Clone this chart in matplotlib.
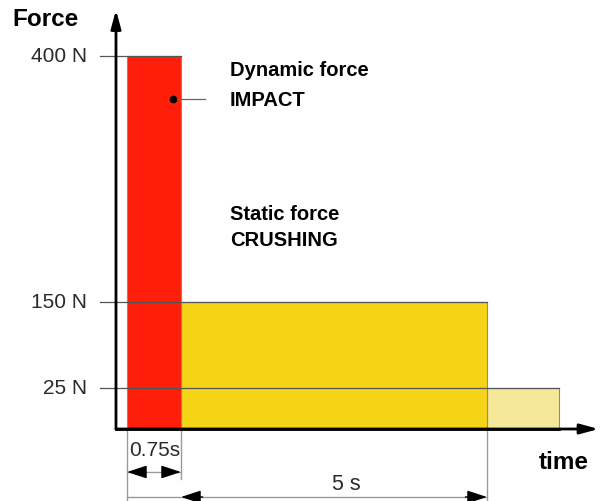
"""Schematic force/time diagram: dynamic impact force vs static crushing force."""
import numpy as np
import matplotlib
matplotlib.use("Agg")
import matplotlib.pyplot as plt
import matplotlib.transforms as mtransforms

# --- data ------------------------------------------------------------------ #
phase_start = [0.0, 0.75, 5.0]          # s
phase_width = [0.75, 4.25, 1.0]         # s
phase_force = [400, 150, 25]            # N
phase_color = ["#FF1E0A", "#F5D316", "#F6E89A"]
level_values = [400, 150, 25]
level_labels = ["400 N", "150 N", "25 N"]
level_end = [0.75, 5.0, 6.0]            # where each level line stops (s)
dim_short = (0.0, 0.75)
dim_long = (0.0, 5.0)

# the drawing is schematic: force axis is not to scale -> piecewise scale
Y_N = [-1000, 0, 25, 150, 400, 2000]
Y_PX = [-1000, 0, 41, 127, 373, 1973]


def fwd(y):
    return np.interp(y, Y_N, Y_PX)


def inv(y):
    return np.interp(y, Y_PX, Y_N)


PX_PER_S = 72.0
AXIS_T = -0.153   # time position of the force axis (slightly left of t=0)
FONT = "Liberation Sans"
plt.rcParams["font.family"] = [FONT, "DejaVu Sans"]

fig = plt.figure(figsize=(6, 5.02), dpi=100)
ax = fig.add_axes([0, 0, 1, 1])
ax.set_yscale("function", functions=(fwd, inv))
ax.set_xlim(-127 / PX_PER_S, 473 / PX_PER_S)
ax.set_ylim(-72, 457)
ax.axis("off")

blend = mtransforms.blended_transform_factory(ax.transData, ax.transAxes)
blend_y = mtransforms.blended_transform_factory(ax.transAxes, ax.transData)
base_frac = 72 / 502

# --- bars (light first so red sits on top) ------------------------------- #
for i in [2, 1, 0]:
    ax.bar(phase_start[i], phase_force[i], width=phase_width[i], align="edge",
           color=phase_color[i], edgecolor="#8c8c80", linewidth=0.8, zorder=2)

# --- level lines + labels -------------------------------------------------- #
for val, lab, end in zip(level_values, level_labels, level_end):
    ax.plot([-0.375, end], [val, val], color="#555555", lw=0.9, zorder=3)
    ax.text(0.145, val, lab, transform=blend_y, ha="right", va="center",
            fontsize=15, color="#2a2a2a")

# --- axes with arrows ------------------------------------------------------ #
arrow_kw = dict(arrowstyle="-|>,head_length=0.55,head_width=0.15",
                color="black", lw=2, mutation_scale=20, shrinkA=0, shrinkB=0)
ax.annotate("", xy=(6.55, 0), xytext=(AXIS_T, 0), arrowprops=arrow_kw, zorder=4)
ax.annotate("", xy=(AXIS_T, 446), xytext=(AXIS_T, 0), arrowprops=arrow_kw, zorder=4)
ax.plot([AXIS_T, 6.0], [0, 0], color="black", lw=2, zorder=4)

# --- dimension lines ------------------------------------------------------- #
dim_grey = "#9a9a9a"
ax.plot([0, 0], [base_frac, 0], transform=blend, color=dim_grey, lw=1)
ax.plot([0.75, 0.75], [base_frac, 22 / 502], transform=blend, color=dim_grey, lw=1)
ax.plot([5.0, 5.0], [base_frac, 0], transform=blend, color=dim_grey, lw=1)

head_kw = dict(arrowstyle="-|>,head_length=0.55,head_width=0.18",
               color="black", lw=1, mutation_scale=22, shrinkA=0, shrinkB=0)


def head(tip, frm, yf):
    ax.annotate("", xy=(tip, yf), xytext=(frm, yf), xycoords=blend,
                textcoords=blend, arrowprops=head_kw)


y_short = 29 / 502
ax.plot(list(dim_short), [y_short, y_short], transform=blend, color=dim_grey, lw=1)
head(dim_short[0], dim_short[0] + 0.24, y_short)
head(dim_short[1], dim_short[1] - 0.24, y_short)
ax.text(0.258, 1 - 451 / 502, "0.75s", transform=ax.transAxes, ha="center",
        va="center", fontsize=15, color="#2a2a2a")

y_long = 4 / 502
ax.plot(list(dim_long), [y_long, y_long], transform=blend, color=dim_grey, lw=1)
head(0.75, 0.75 + 0.3, y_long)
head(dim_long[1], dim_long[1] - 0.3, y_long)
ax.text(0.578, 1 - 485 / 502, "5 s", transform=ax.transAxes, ha="center",
        va="center", fontsize=15.5, color="#2a2a2a")

# --- annotation texts ------------------------------------------------------ #
bold = dict(fontweight="bold", color="black", transform=ax.transAxes, va="center")
ax.text(0.02, 1 - 20 / 502, "Force", fontsize=17.5, ha="left", **bold)
ax.text(0.898, 1 - 463 / 502, "time", fontsize=17.5, ha="left", **bold)
ax.text(0.383, 1 - 70 / 502, "Dynamic force", fontsize=14.5, ha="left", **bold)
ax.text(0.383, 1 - 100 / 502, "IMPACT", fontsize=14.5, ha="left", **bold)
ax.text(0.383, 1 - 215 / 502, "Static force", fontsize=14.5, ha="left", **bold)
ax.text(0.383, 1 - 240 / 502, "CRUSHING", fontsize=14.5, ha="left", **bold)

# leader from the impact bar to its label
ax.plot([173 / 600, 205 / 600], [1 - 100 / 502] * 2, transform=ax.transAxes,
        color="#666666", lw=0.9, zorder=5)
ax.plot([173 / 600], [1 - 100 / 502], "o", ms=4.5, color="black",
        transform=ax.transAxes, zorder=6)

fig.savefig("out.png", dpi=100)
